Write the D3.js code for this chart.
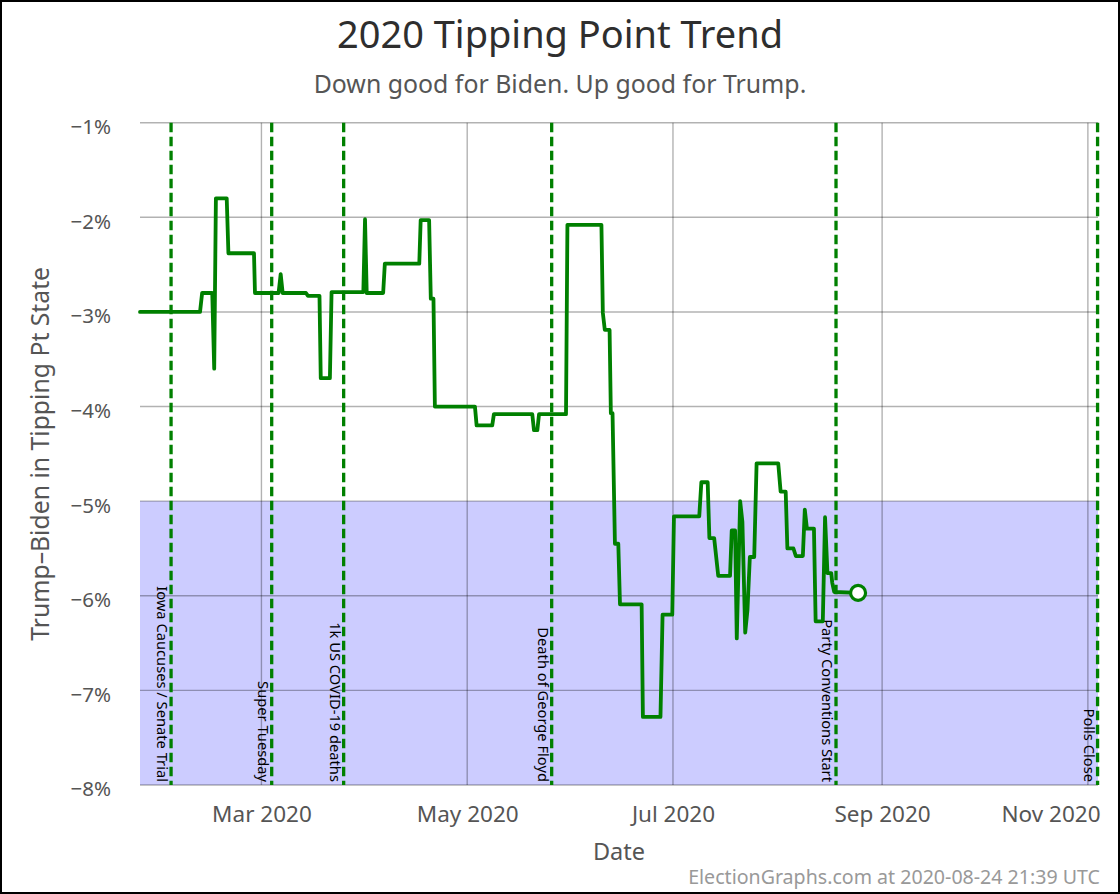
<!DOCTYPE html>
<html><head><meta charset="utf-8">
<script src="https://cdn.jsdelivr.net/npm/d3@7"></script>
<style>body{margin:0;background:#fff} svg{display:block}</style>
</head><body>
<svg id="chart" width="1120" height="894"></svg>
<script>
// ---- data ----
const dates = [
 "2020-01-25T00","2020-02-11T19","2020-02-12T10","2020-02-15T10","2020-02-16T00","2020-02-16T12",
 "2020-02-19T17","2020-02-20T05","2020-02-27T19","2020-02-28T02","2020-03-06T02","2020-03-06T17",
 "2020-03-07T07","2020-03-14T05","2020-03-14T19","2020-03-18T05","2020-03-18T14","2020-03-21T07",
 "2020-03-21T19","2020-03-31T05","2020-03-31T17","2020-04-01T05","2020-04-06T02","2020-04-06T14",
 "2020-04-16T19","2020-04-17T05","2020-04-19T17","2020-04-20T05","2020-04-21T00","2020-04-21T10",
 "2020-05-03T07","2020-05-03T19","2020-05-08T10","2020-05-08T22","2020-05-20T07","2020-05-20T19",
 "2020-05-21T19","2020-05-22T07","2020-05-30T07","2020-05-30T17","2020-06-09T19","2020-06-10T05",
 "2020-06-10T19","2020-06-12T05","2020-06-12T14","2020-06-13T02","2020-06-13T19","2020-06-14T19",
 "2020-06-15T07","2020-06-21T17","2020-06-22T02","2020-06-27T07","2020-06-27T22","2020-06-30T19",
 "2020-07-01T07","2020-07-08T19","2020-07-09T10","2020-07-11T07","2020-07-11T19","2020-07-13T05",
 "2020-07-14T10","2020-07-17T22","2020-07-18T10","2020-07-19T10","2020-07-19T22","2020-07-20T22",
 "2020-07-21T14","2020-07-22T10","2020-07-23T02","2020-07-23T19","2020-07-25T02","2020-07-25T19",
 "2020-08-01T05","2020-08-01T22","2020-08-03T10","2020-08-03T22","2020-08-05T17","2020-08-06T10",
 "2020-08-08T12","2020-08-09T02","2020-08-09T17","2020-08-11T19","2020-08-12T07","2020-08-14T10",
 "2020-08-15T02","2020-08-15T19","2020-08-16T22","2020-08-17T05","2020-08-17T19","2020-08-24T21"
];
const values = [
 -3.00,-3.00,-2.80,-2.80,-3.60,-1.80,
 -1.80,-2.38,-2.38,-2.80,-2.80,-2.60,
 -2.80,-2.80,-2.83,-2.83,-3.70,-3.70,
 -2.79,-2.79,-2.02,-2.80,-2.80,-2.49,
 -2.49,-2.03,-2.03,-2.86,-2.86,-4.00,
 -4.00,-4.20,-4.20,-4.08,-4.08,-4.25,
 -4.25,-4.08,-4.08,-2.08,-2.08,-3.01,
 -3.19,-3.19,-4.07,-4.07,-5.45,-5.45,
 -6.09,-6.09,-7.28,-7.28,-6.20,-6.20,
 -5.16,-5.16,-4.80,-4.80,-5.39,-5.39,
 -5.79,-5.79,-5.31,-5.31,-6.45,-5.00,
 -5.22,-6.39,-6.15,-5.59,-5.59,-4.60,
 -4.60,-4.90,-4.90,-5.50,-5.50,-5.58,
 -5.58,-5.09,-5.29,-5.29,-6.27,-6.27,
 -5.17,-5.76,-5.76,-5.86,-5.96,-5.97
];
const eventDates = ["2020-02-03T05","2020-03-04T01","2020-03-25T09","2020-05-26T01","2020-08-18T08","2020-11-03T21"];
const eventLabels = ["Iowa Caucuses / Senate Trial","Super Tuesday","1k US COVID-19 deaths","Death of George Floyd","Party Conventions Start","Polls Close"];
const yTicks = [-1,-2,-3,-4,-5,-6,-7,-8];
const xTickDates = ["2020-03-01","2020-05-01","2020-07-01","2020-09-01","2020-11-01"];
const xTickLabels = ["Mar 2020","May 2020","Jul 2020","Sep 2020","Nov 2020"];
const xDomain = ["2020-01-25T00","2020-11-04T00"];
const yDomain = [-8,-1];
const bandTop = -5;

// ---- drawing ----
const W = 1120, H = 894;
const m = {left:140, right:1098, top:122.7, bottom:785};
const parse = s => new Date(s.length === 10 ? s + "T00:00:00Z" : s + ":00:00Z");
const font = "'Noto Sans', sans-serif";
const svg = d3.select("#chart");
function fit(sel, target) {
  const len = sel.node().getComputedTextLength();
  if (len > 0) sel.attr("font-size", (+sel.attr("font-size")) * target / len);
  return sel;
}

const x = d3.scaleUtc().domain(xDomain.map(parse)).range([m.left, m.right]);
const y = d3.scaleLinear().domain(yDomain).range([m.bottom, m.top]);

svg.append("rect").attr("width", W).attr("height", H).attr("fill", "#fff");

// band
svg.append("rect")
  .attr("x", m.left).attr("y", y(bandTop))
  .attr("width", m.right - m.left).attr("height", y(yDomain[0]) - y(bandTop))
  .attr("fill", "#ccccff");

// grid
const grid = svg.append("g").attr("stroke", "#000").attr("stroke-opacity", 0.3).attr("stroke-width", 1.4);
grid.selectAll(".hy").data(yTicks).join("line")
  .attr("x1", m.left).attr("x2", m.right)
  .attr("y1", d => y(d)).attr("y2", d => y(d));
grid.selectAll(".vx").data(xTickDates).join("line")
  .attr("y1", m.top).attr("y2", m.bottom)
  .attr("x1", d => x(parse(d))).attr("x2", d => x(parse(d)));

// axes
const xAxis = d3.axisBottom(x)
  .tickValues(xTickDates.map(parse))
  .tickFormat((d, i) => xTickLabels[i])
  .tickSize(0).tickPadding(21);
const gx = svg.append("g").attr("transform", `translate(0,${m.bottom})`).call(xAxis);
gx.select(".domain").remove();
gx.selectAll("text").attr("font-family", font).attr("font-size", 22.5).attr("fill", "#555");
// keep the last label inside the plot's right edge
gx.selectAll(".tick").filter((d, i, n) => i === n.length - 1).select("text")
  .attr("text-anchor", "end").attr("x", m.right + 2 - x(parse(xTickDates[xTickDates.length - 1])));

const yAxis = d3.axisLeft(y)
  .tickValues(yTicks)
  .tickFormat(d => "\u2212" + Math.abs(d) + "%")
  .tickSize(0).tickPadding(29);
const gy = svg.append("g").attr("transform", `translate(${m.left},0)`).call(yAxis);
gy.select(".domain").remove();
gy.selectAll("text").attr("font-family", font).attr("font-size", 20.5).attr("fill", "#555").attr("dy", "0.53em");

// event lines
const ev = eventDates.map((d, i) => ({date: parse(d), label: eventLabels[i]}));
svg.append("g").selectAll("line").data(ev).join("line")
  .attr("x1", d => x(d.date)).attr("x2", d => x(d.date))
  .attr("y1", m.top).attr("y2", m.bottom)
  .attr("stroke", "#008000").attr("stroke-width", 3.3).attr("stroke-dasharray", "9.5,4.5");
svg.append("g").selectAll("text").data(ev).join("text")
  .attr("transform", d => `translate(${x(d.date) - 14},${m.bottom - 3}) rotate(90)`)
  .attr("text-anchor", "end")
  .attr("font-family", font).attr("font-size", 14.7).attr("fill", "#000")
  .text(d => d.label);

// data line
const pts = dates.map((d, i) => ({date: parse(d), v: values[i]}));
const line = d3.line().x(d => x(d.date)).y(d => y(d.v));
svg.append("path").datum(pts)
  .attr("d", line).attr("fill", "none")
  .attr("stroke", "#008000").attr("stroke-width", 3.8)
  .attr("stroke-linejoin", "round").attr("stroke-linecap", "round");
const last = pts[pts.length - 1];
svg.append("circle")
  .attr("cx", x(last.date)).attr("cy", y(last.v)).attr("r", 7.5)
  .attr("fill", "#fff").attr("stroke", "#008000").attr("stroke-width", 3.2);

// titles
fit(svg.append("text").attr("x", 560).attr("y", 47.5).attr("text-anchor", "middle")
  .attr("font-family", font).attr("font-size", 36).attr("fill", "#2e2e2e")
  .text("2020 Tipping Point Trend"), 446);
fit(svg.append("text").attr("x", 560).attr("y", 93).attr("text-anchor", "middle")
  .attr("font-family", font).attr("font-size", 22).attr("fill", "#555")
  .text("Down good for Biden. Up good for Trump."), 493);
fit(svg.append("text")
  .attr("transform", `translate(49,${(m.top + m.bottom) / 2}) rotate(-90)`)
  .attr("text-anchor", "middle")
  .attr("font-family", font).attr("font-size", 24).attr("fill", "#555")
  .text("Trump\u2013Biden in Tipping Pt State"), 374);
svg.append("text").attr("x", (m.left + m.right) / 2).attr("y", 860).attr("text-anchor", "middle")
  .attr("font-family", font).attr("font-size", 23.5).attr("fill", "#555")
  .text("Date");
fit(svg.append("text").attr("x", 1100).attr("y", 884).attr("text-anchor", "end")
  .attr("font-family", font).attr("font-size", 18).attr("fill", "#999")
  .text("ElectionGraphs.com at 2020-08-24 21:39 UTC"), 412);

// frame
svg.append("rect").attr("x", 1).attr("y", 1).attr("width", W - 2).attr("height", H - 2)
  .attr("fill", "none").attr("stroke", "#000").attr("stroke-width", 2);
</script>
</body></html>
